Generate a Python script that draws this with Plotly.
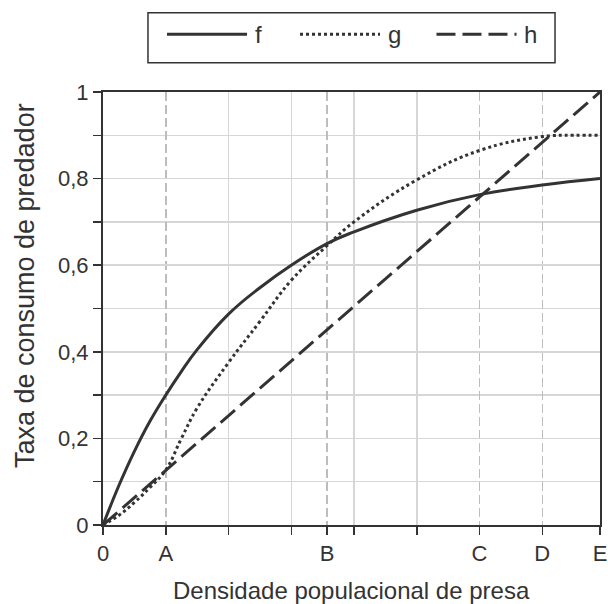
import plotly.graph_objects as go

# ---- data ----
x_tick_vals = [0, 1, 3.57, 6, 7, 7.92]
x_tick_text = ["0", "A", "B", "C", "D", "E"]
x_minor_vals = [2, 3, 4, 5]
y_tick_vals = [0, 0.2, 0.4, 0.6, 0.8, 1]
y_tick_text = ["0", "0,2", "0,4", "0,6", "0,8", "1"]
y_minor_vals = [0.1, 0.3, 0.5, 0.7, 0.9]

f_x = [0, 0.25, 0.5, 0.75, 1, 1.25, 1.5, 2, 2.5, 3, 3.57, 4, 5, 6, 7, 7.92]
f_y = [0, 0.09, 0.17, 0.24, 0.30, 0.355, 0.405, 0.487, 0.548, 0.60, 0.65, 0.677, 0.727, 0.763, 0.785, 0.80]

g_x = [0, 0.25, 0.5, 0.75, 1, 1.25, 1.5, 2, 2.5, 3, 3.57, 4, 5, 6, 7, 7.5, 7.92]
g_y = [0, 0.022, 0.052, 0.087, 0.127, 0.2, 0.27, 0.375, 0.47, 0.565, 0.645, 0.70, 0.797, 0.865, 0.897, 0.90, 0.90]

h_x = [0, 7.92]
h_y = [0, 1]

series_names = ["f", "g", "h"]
x_title = "Densidade populacional de presa"
y_title = "Taxa de consumo de predador"

INK = "#333333"
FONT = "Liberation Sans, Arial, Helvetica, sans-serif"
styles = {
    "f": dict(color=INK, width=3, dash="solid"),
    "g": dict(color=INK, width=3, dash="3px,3px"),
    "h": dict(color=INK, width=3, dash="19px,7px"),
}

fig = go.Figure()
for name, xs, ys in [("f", f_x, f_y), ("g", g_x, g_y), ("h", h_x, h_y)]:
    fig.add_trace(go.Scatter(
        x=xs, y=ys, mode="lines", name=name,
        line=dict(shape="spline" if name != "h" else "linear", smoothing=1.2, **styles[name]),
        showlegend=False, hoverinfo="skip",
    ))

# ---- manual legend (boxed, long line samples) ----
fig.add_shape(type="rect", xref="paper", yref="paper",
              x0=0.0905, x1=0.9095, y0=1.0677, y1=1.1831,
              line=dict(color=INK, width=1.5), fillcolor="white")
leg_x0 = [0.1288, 0.3964, 0.6710]
leg_len = 0.161
leg_y = 1.1333
for i, name in enumerate(series_names):
    st = styles[name]
    fig.add_shape(type="line", xref="paper", yref="paper",
                  x0=leg_x0[i], x1=leg_x0[i] + leg_len, y0=leg_y, y1=leg_y,
                  line=dict(color=st["color"], width=st["width"], dash=st["dash"]))
    fig.add_annotation(xref="paper", yref="paper", x=leg_x0[i] + leg_len + 0.012, y=leg_y,
                       text=name, showarrow=False, xanchor="left", yanchor="middle",
                       font=dict(family=FONT, size=24, color=INK))

# axis titles as annotations (exact placement)
fig.add_annotation(xref="paper", yref="paper", x=-0.157, y=0.554, text=y_title,
                   textangle=-90, showarrow=False, xanchor="center", yanchor="middle",
                   font=dict(family=FONT, size=27, color=INK))
fig.add_annotation(xref="paper", yref="paper", x=0.5, y=-0.152, text=x_title,
                   showarrow=False, xanchor="center", yanchor="middle",
                   font=dict(family=FONT, size=24, color=INK))

fig.update_layout(
    width=608, height=604,
    margin=dict(l=103, r=8, t=92, b=79, autoexpand=False),
    paper_bgcolor="white", plot_bgcolor="white",
    font=dict(family=FONT, size=22, color=INK),
    xaxis=dict(
        range=[0, 7.92], tickmode="array", tickvals=x_tick_vals, ticktext=x_tick_text,
        ticks="outside", ticklen=8, tickwidth=1.5, tickcolor=INK, automargin=False,
        showline=True, linecolor=INK, linewidth=2, mirror=True,
        showgrid=True, gridcolor="#bdbdbd", gridwidth=1.5, griddash="9px,4px",
        zeroline=False,
        tickfont=dict(size=22, color=INK),
        minor=dict(tickmode="array", tickvals=x_minor_vals, ticks="outside", ticklen=8,
                   tickwidth=1.5, tickcolor=INK, showgrid=True, gridcolor="#d6d6d6",
                   gridwidth=1.5, griddash="solid"),
    ),
    yaxis=dict(
        range=[0, 1], tickmode="array", tickvals=y_tick_vals, ticktext=y_tick_text,
        ticks="outside", ticklen=8, tickwidth=1.5, tickcolor=INK, automargin=False,
        showline=True, linecolor=INK, linewidth=2, mirror=True,
        showgrid=True, gridcolor="#d6d6d6", gridwidth=1.5,
        zeroline=False,
        tickfont=dict(size=22, color=INK),
        minor=dict(tickmode="array", tickvals=y_minor_vals, ticks="outside", ticklen=8,
                   tickwidth=1.5, tickcolor=INK, showgrid=True, gridcolor="#d6d6d6",
                   gridwidth=1.5),
    ),
)

fig.write_html("out.html", config={"displayModeBar": False, "staticPlot": True},
               post_script="document.body.style.margin='0';document.body.style.overflow='hidden';")
